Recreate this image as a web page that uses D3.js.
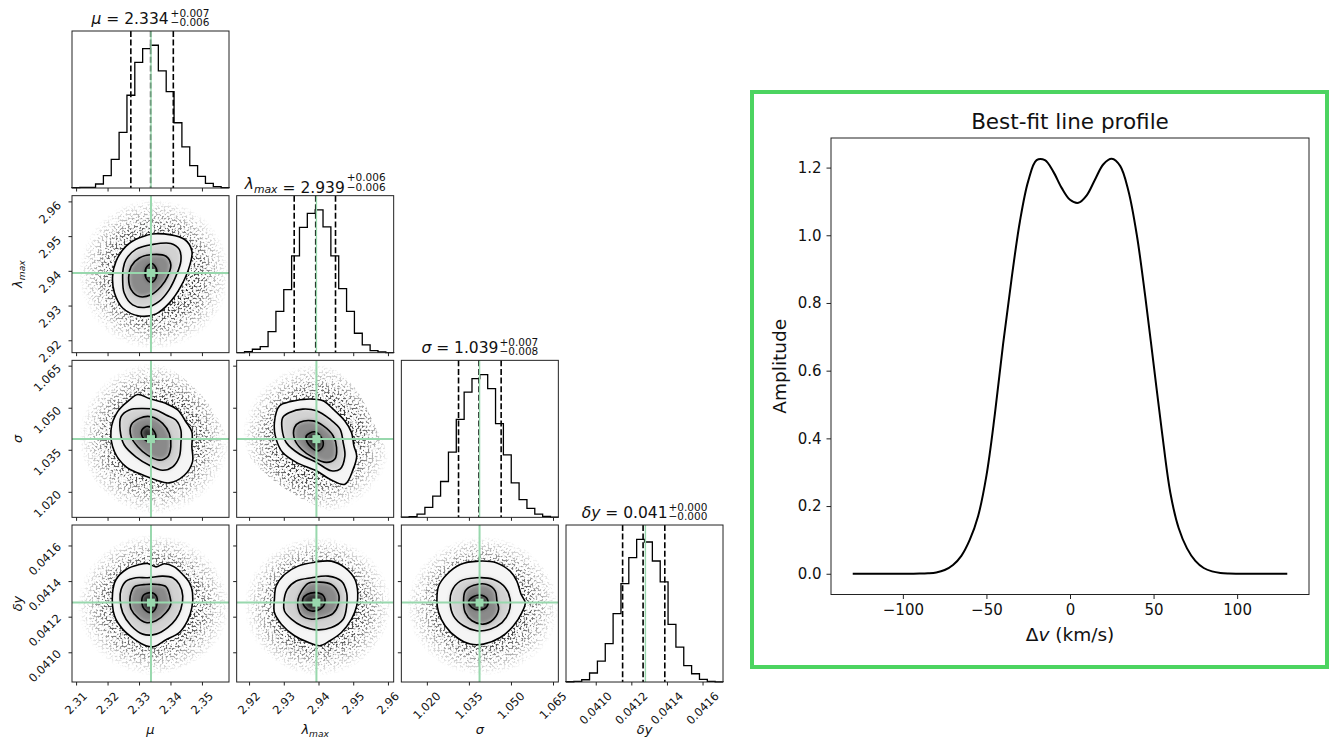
<!DOCTYPE html>
<html><head><meta charset="utf-8">
<script src="https://cdn.jsdelivr.net/npm/d3@7"></script>
<style>
body{margin:0;background:#fff;}
svg{display:block;font-family:"DejaVu Sans",sans-serif;}
</style></head><body>
<svg id="chart" width="1330" height="747"></svg>
<script>
// ---------------- DATA ----------------
const muRange = [2.3087, 2.3586];
const lamRange = [2.91643, 2.96165];
const sigRange = [1.0109, 1.0669];
const dyRange = [0.040833, 0.041715];

const muTicks = [2.31, 2.32, 2.33, 2.34, 2.35];
const lamTicks = [2.92, 2.93, 2.94, 2.95, 2.96];
const sigTicks = [1.020, 1.035, 1.050, 1.065];
const dyTicks = [0.0410, 0.0412, 0.0414, 0.0416];

const muHist  = [2, 5, 5, 28, 87, 200, 390, 650, 880, 977, 1000, 820, 675, 457, 288, 157, 82, 33, 9, 2];
const lamHist = [0, 7, 24, 42, 148, 289, 442, 678, 878, 976, 1000, 882, 678, 449, 289, 136, 54, 14, 5, 1];
const sigHist = [2, 5, 23, 70, 148, 251, 457, 686, 878, 972, 1000, 902, 656, 438, 241, 124, 63, 23, 7, 2];
const dyHist  = [2, 5, 16, 63, 147, 269, 479, 689, 871, 1000, 981, 848, 701, 404, 245, 115, 58, 19, 5, 1];

const truthValues = [2.3338, 2.9394, 1.0388, 0.041279];
const q16 = [2.3274, 2.9330, 1.0313, 0.041151];
const q50 = [2.3337, 2.9392, 1.0386, 0.041266];
const q84 = [2.3409, 2.9449, 1.0465, 0.041388];

const titleMedian = ["2.334", "2.939", "1.039", "0.041"];
const titlePlus   = ["+0.007", "+0.006", "+0.007", "+0.000"];
const titleMinus  = ["\u22120.006", "\u22120.006", "\u22120.008", "\u22120.000"];

// contour vertices: offsets from the truth values (units: 1e-3 for mu, lambda, sigma; 1e-5 for dy)
const offsetUnit = [1e-3, 1e-3, 1e-3, 1e-5];

const haloMuLam = [[-16.4,16.4],[-0.5,21.3],[15.3,18.4],[22.7,9.7],[24.9,-1.0],[19.6,-14.5],[6.9,-21.3],[-5.8,-21.3],[-17.5,-15.5],[-22.7,-2.9],[-21.7,8.7]];
const c20MuLam = [[1.6,11.3],[10.6,9.7],[13.0,6.3],[12.4,2.4],[9.5,-3.9],[5.8,-8.7],[1.6,-11.8],[-3.7,-12.4],[-9.0,-10.1],[-11.6,-5.8],[-12.2,-1.0],[-11.1,3.4],[-7.9,7.7],[-3.7,10.1]];
const c15MuLam = [[-7.9,3.9],[-4.8,6.8],[0.5,8.2],[6.3,8.5],[9.0,6.8],[9.5,3.4],[7.9,-1.0],[5.8,-4.8],[2.6,-8.2],[-1.6,-9.9],[-5.8,-9.2],[-8.5,-5.8],[-9.0,-1.4],[-8.8,1.4]];
const c10MuLam = [[-6.3,1.9],[-3.7,4.3],[0.5,5.3],[4.8,4.8],[6.3,2.4],[5.3,-1.0],[3.2,-3.9],[0,-6.3],[-3.7,-6.8],[-6.3,-4.8],[-7.1,-1.4]];
const c05MuLam = [[-1.6,1.4],[0.3,2.7],[1.8,1.0],[1.6,-1.4],[0,-2.7],[-1.6,-1.4]];

const haloMuSig = [[-20.6,13.9],[-11.1,24.6],[1.6,27.0],[11.1,21.1],[19.6,10.4],[24.9,-3.9],[20.6,-18.2],[11.1,-25.3],[-1.6,-26.5],[-14.3,-19.4],[-21.7,-6.3],[-22.7,5.6]];
const c20MuSig = [[-12.7,3.2],[-10.6,9.8],[-6.9,13.9],[-4.2,15.9],[-0.5,14.5],[4.8,12.7],[8.5,10.4],[11.1,6.2],[13.0,2.6],[13.0,-2.7],[13.2,-8.1],[10.6,-12.9],[5.8,-15.6],[1.6,-14.6],[-3.7,-12.3],[-7.9,-9.9],[-11.6,-4.5]];
const c15MuSig = [[-9.5,8.0],[-6.9,10.4],[-2.6,10.9],[1.6,10.4],[4.8,8.6],[7.9,6.8],[9.5,3.2],[9.5,-1.5],[9.0,-6.3],[6.9,-9.9],[3.7,-11.1],[-0.5,-9.3],[-4.8,-6.3],[-8.5,-2.1],[-9.8,3.2]];
const c10MuSig = [[-6.3,5.0],[-3.7,7.4],[0,8.0],[3.7,5.6],[5.8,2.0],[6.3,-2.7],[5.3,-6.3],[2.6,-7.5],[-1.1,-5.7],[-4.2,-2.7],[-6.3,0.8]];
const c05MuSig = [[-2.9,3.2],[-1.1,4.6],[1.1,2.6],[1.4,0.2],[-0.5,-1.0],[-2.6,0.6]];

const haloLamSig = [[-18.4,17.9],[-9.7,25.0],[2.9,26.2],[10.6,19.0],[16.4,6.0],[21.3,-9.5],[19.3,-23.8],[9.7,-26.8],[0,-23.8],[-11.6,-15.5],[-19.3,-6.0],[-21.3,7.1]];
const c20LamSig = [[-10.6,11.9],[-7.7,13.3],[-1.9,14.3],[1.9,13.7],[4.8,10.7],[8.2,6.5],[10.1,2.4],[10.8,-2.4],[11.6,-6.0],[10.6,-10.7],[8.2,-16.1],[3.9,-14.3],[0,-11.3],[-5.8,-8.3],[-9.7,-4.8],[-11.6,0],[-12.1,6.0]];
const c15LamSig = [[-9.7,7.7],[-7.7,9.5],[-3.9,10.7],[0,10.1],[3.9,7.1],[6.8,3.6],[7.7,-1.2],[8.2,-6.0],[6.8,-10.7],[4.3,-11.3],[0,-8.3],[-4.8,-5.4],[-8.7,-1.2],[-9.9,3.6]];
const c10LamSig = [[-6.3,4.2],[-4.8,6.0],[-1.0,6.5],[1.9,4.8],[4.8,1.2],[5.8,-3.0],[5.3,-7.1],[2.9,-8.3],[-1.0,-6.5],[-4.3,-3.6],[-6.3,0]];
const c05LamSig = [[-2.9,1.2],[-0.5,2.6],[1.4,0.6],[1.9,-2.4],[0.5,-4.2],[-1.4,-3.0],[-2.7,-1.0]];

const haloMuDy = [[-20.6,18.6],[-13.2,31.7],[-1.6,38.2],[11.1,35.4],[19.6,22.3],[24.9,0],[21.7,-22.3],[11.1,-35.4],[-0.5,-41.0],[-12.2,-35.4],[-20.6,-20.5],[-23.3,-1.9]];
const c20MuDy = [[-12.2,5.6],[-11.1,13.0],[-7.9,18.6],[-3.7,21.4],[-1.1,22.0],[1.6,20.1],[4.2,21.8],[7.4,20.1],[10.1,15.8],[12.2,11.2],[13.2,5.6],[13.0,-2.8],[11.6,-10.2],[9.0,-16.8],[4.8,-20.9],[1.1,-24.6],[-1.6,-24.2],[-5.3,-20.5],[-9.0,-14.9],[-11.6,-7.4]];
const c15MuDy = [[-9.5,7.4],[-7.9,12.1],[-4.8,14.0],[-1.1,14.0],[3.7,14.9],[6.9,14.0],[9.0,10.2],[10.1,3.7],[9.5,-3.7],[7.9,-9.3],[5.3,-14.0],[1.6,-17.7],[-2.6,-17.7],[-6.3,-13.0],[-9.0,-5.6],[-9.8,1.9]];
const c10MuDy = [[-6.3,5.6],[-5.3,8.9],[-1.6,10.2],[2.1,10.2],[4.8,8.9],[6.0,3.7],[6.3,-0.9],[4.8,-5.6],[1.6,-10.2],[-1.6,-11.2],[-4.2,-8.4],[-6.3,-3.7],[-6.7,1.9]];
const c05MuDy = [[-2.4,4.1],[0,5.6],[1.8,3.4],[1.6,-2.8],[0,-5.6],[-2.1,-3.7],[-2.9,0]];

const haloLamDy = [[-18.8,20.5],[-11.1,33.5],[-0.5,37.2],[11.1,33.5],[18.8,18.6],[21.7,-1.9],[17.9,-22.3],[9.2,-37.2],[-1.4,-41.0],[-11.1,-33.5],[-18.8,-18.6],[-20.8,1.9]];
const c20LamDy = [[-12.1,1.9],[-11.6,9.3],[-9.2,15.8],[-5.3,20.5],[-0.5,22.7],[4.3,23.3],[8.2,19.6],[11.1,13.0],[11.9,5.6],[11.6,-1.9],[10.1,-9.3],[7.2,-16.8],[3.9,-21.4],[1.0,-24.2],[-2.4,-22.3],[-6.3,-18.6],[-10.1,-12.1],[-12.1,-5.6]];
const c15LamDy = [[-9.4,0],[-8.4,7.4],[-5.8,12.1],[-1.4,14.0],[3.4,14.9],[7.2,12.1],[8.7,5.6],[8.7,-1.9],[7.7,-9.3],[4.3,-14.0],[0,-15.3],[-4.3,-13.0],[-7.2,-9.3],[-9.2,-4.7]];
const c10LamDy = [[-5.3,1.9],[-4.3,6.5],[-2.4,10.8],[1.0,11.5],[4.3,10.2],[6.3,5.2],[6.3,-0.9],[4.8,-6.0],[1.9,-8.4],[-1.4,-9.3],[-4.3,-7.1],[-5.3,-2.8]];
const c05LamDy = [[-3.9,2.2],[-2.6,4.7],[-0.3,5.6],[1.9,4.1],[2.4,-0.4],[1.0,-3.7],[-1.4,-4.7],[-3.4,-2.2]];

const haloSigDy = [[-22.4,20.5],[-12.9,33.5],[0.2,37.2],[14.5,31.7],[24.0,16.8],[28.2,0],[25.2,-22.3],[13.3,-37.2],[0.2,-41.0],[-12.9,-35.4],[-22.4,-20.5],[-25.9,0]];
const c20SigDy = [[-15.2,0.9],[-14.6,9.3],[-11.7,15.8],[-6.9,21.4],[-0.4,23.3],[6.2,22.3],[10.9,17.7],[13.3,12.1],[14.8,4.7],[16.3,0],[15.1,-5.6],[12.1,-13.0],[7.4,-19.6],[1.4,-23.3],[-3.3,-23.3],[-8.1,-19.6],[-12.3,-13.0],[-14.6,-5.6]];
const c15SigDy = [[-10.5,0],[-9.9,6.5],[-6.9,12.1],[-1.0,14.0],[5.0,13.0],[9.2,8.4],[10.9,1.9],[10.4,-5.6],[8.0,-11.2],[3.8,-14.9],[-1.0,-15.8],[-5.7,-13.0],[-9.3,-7.4]];
const c10SigDy = [[-5.7,0.9],[-5.1,6.5],[-2.1,9.7],[2.6,10.2],[5.6,6.5],[6.2,0.9],[6.8,-3.7],[5.0,-9.3],[1.4,-12.1],[-2.7,-10.2],[-5.1,-5.6]];
const c05SigDy = [[-3.9,0.4],[-2.1,3.4],[0.8,4.1],[2.9,1.5],[2.6,-2.2],[0.2,-4.1],[-2.7,-2.8]];

// best-fit line profile
const profileVelocity = [-130,-125,-120,-115,-110,-105,-100,-95,-90,-85,-80,-75,-70,-65,-60,-55,-50,-45,-40,-35,-30,-25,-20,-15,-10,-5,0,5,10,15,20,25,30,35,40,45,50,55,60,65,70,75,80,85,90,95,100,105,110,115,120,125,130];
const profileAmplitude = [0,0,0,0,0,0,0,0.0002,0.0005,0.0015,0.004,0.011,0.026,0.053,0.1,0.17,0.29,0.47,0.68,0.87,1.04,1.16,1.222,1.222,1.188,1.14,1.105,1.096,1.118,1.165,1.21,1.226,1.205,1.13,1.0,0.82,0.62,0.42,0.24,0.135,0.075,0.038,0.017,0.007,0.0025,0.0008,0.0002,0,0,0,0,0,0];
const profileXTicks = [-100, -50, 0, 50, 100];
const profileYTicks = [0.0, 0.2, 0.4, 0.6, 0.8, 1.0, 1.2];

// ---------------- DRAWING ----------------
const svg = d3.select("#chart");
const defs = svg.append("defs");
const ranges = [muRange, lamRange, sigRange, dyRange];
const ticks = [muTicks, lamTicks, sigTicks, dyTicks];
const tickFmt = [d3.format(".2f"), d3.format(".2f"), d3.format(".3f"), d3.format(".4f")];
const hists = [muHist, lamHist, sigHist, dyHist];
const SIZE = 157, STEP = 164.67, X0 = 72, Y0 = 31;
const colX = i => X0 + i * STEP;
const rowY = j => Y0 + j * STEP;
const xScale = ranges.map((r, i) => d3.scaleLinear().domain(r).range([colX(i), colX(i) + SIZE]));
const yScale = ranges.map((r, j) => d3.scaleLinear().domain(r).range([rowY(j) + SIZE, rowY(j)]));
const GREEN = "#98d8ad";
const AXC = "#222";
const TICKFS = 11.5;

// filters / gradients
const grad = defs.append("radialGradient").attr("id", "haloGrad").attr("cx", 0.5).attr("cy", 0.5).attr("r", 0.5);
[[0,1],[0.48,1],[0.64,0.75],[0.82,0.32],[1,0]].forEach(s => grad.append("stop").attr("offset", s[0]).attr("stop-color", "#000").attr("stop-opacity", s[1]));
const f = defs.append("filter").attr("id", "speck").attr("x", -0.1).attr("y", -0.1).attr("width", 1.2).attr("height", 1.2).attr("color-interpolation-filters", "sRGB");
f.append("feTurbulence").attr("type", "fractalNoise").attr("baseFrequency", 0.5).attr("numOctaves", 2).attr("seed", 11).attr("result", "n");
f.append("feColorMatrix").attr("in", "n").attr("type", "matrix")
  .attr("values", "0 0 0 0 0.22  0 0 0 0 0.22  0 0 0 0 0.22  -6.5 0 0 0 3.35").attr("result", "d");
f.append("feComposite").attr("in", "d").attr("in2", "SourceGraphic").attr("operator", "in");
const blur = defs.append("filter").attr("id", "soft").attr("x", -0.2).attr("y", -0.2).attr("width", 1.4).attr("height", 1.4);
blur.append("feGaussianBlur").attr("stdDeviation", 2.2);

function placeRot(sel, cx, cy) {
  const bb = sel.node().getBBox();
  const lx = bb.x + bb.width / 2, ly = bb.y + bb.height / 2;
  const rx = 0.7071 * (lx + ly), ry = 0.7071 * (ly - lx);
  sel.attr("transform", `translate(${cx - rx},${cy - ry}) rotate(-45)`);
}
function rotSize(sel) { const bb = sel.node().getBBox(); return (bb.width + bb.height) * 0.7071; }

function bottomTicks(g, k, j, withLabels) {
  const sc = xScale[k], yb = rowY(j) + SIZE;
  g.append("g").attr("transform", `translate(0,${yb})`)
    .call(d3.axisBottom(sc).tickValues(ticks[k]).tickSize(3.5).tickFormat(""))
    .call(a => { a.select(".domain").remove(); a.selectAll("line").attr("stroke", AXC); });
  if (withLabels) {
    ticks[k].forEach(t => {
      const tx = g.append("text").attr("font-size", TICKFS).attr("fill", "#111").text(tickFmt[k](t));
      const s = rotSize(tx);
      placeRot(tx, sc(t), yb + 7 + s / 2);
    });
  }
}
function leftTicks(g, k, i, withLabels) {
  const sc = yScale[k], xl = colX(i);
  g.append("g").attr("transform", `translate(${xl},0)`)
    .call(d3.axisLeft(sc).tickValues(ticks[k]).tickSize(3.5).tickFormat(""))
    .call(a => { a.select(".domain").remove(); a.selectAll("line").attr("stroke", AXC); });
  if (withLabels) {
    ticks[k].forEach(t => {
      const tx = g.append("text").attr("font-size", TICKFS).attr("fill", "#111").text(tickFmt[k](t));
      const s = rotSize(tx);
      placeRot(tx, xl - 8 - s / 2, sc(t) + 4 + s * 0.25);
    });
  }
}
function frame(g, i, j) {
  g.append("rect").attr("x", colX(i)).attr("y", rowY(j)).attr("width", SIZE).attr("height", SIZE)
    .attr("fill", "none").attr("stroke", AXC).attr("stroke-width", 1);
}
function symbol(textSel, k, fs) {
  if (k === 1) {
    textSel.append("tspan").attr("font-style", "italic").text("λ");
    textSel.append("tspan").attr("font-style", "italic").attr("font-size", fs * 0.7).attr("dy", fs * 0.25).text("max");
    textSel.append("tspan").attr("dy", -fs * 0.25).text("");
  } else if (k === 3) {
    textSel.append("tspan").attr("font-style", "italic").text("δy");
  } else {
    textSel.append("tspan").attr("font-style", "italic").text(k === 0 ? "μ" : "σ");
  }
}

// ---- histograms ----
for (let k = 0; k < 4; k++) {
  const g = svg.append("g");
  const xs = xScale[k], counts = hists[k];
  const ys = d3.scaleLinear().domain([0, 1.1 * d3.max(counts)]).range([rowY(k) + SIZE, rowY(k)]);
  const [a, b] = ranges[k], w = (b - a) / counts.length;
  const pts = [[a, 0]];
  counts.forEach((c, i) => pts.push([a + i * w, c]));
  pts.push([b, counts[counts.length - 1]], [b, 0]);
  g.append("path").attr("d", d3.line().x(d => xs(d[0])).y(d => ys(d[1])).curve(d3.curveStepAfter)(pts))
    .attr("fill", "none").attr("stroke", "#000").attr("stroke-width", 1.3);
  [q16[k], q50[k], q84[k]].forEach(q => {
    g.append("line").attr("x1", xs(q)).attr("x2", xs(q)).attr("y1", rowY(k)).attr("y2", rowY(k) + SIZE)
      .attr("stroke", "#000").attr("stroke-width", 1.6).attr("stroke-dasharray", "6,2.6");
  });
  g.append("line").attr("x1", xs(truthValues[k])).attr("x2", xs(truthValues[k])).attr("y1", rowY(k)).attr("y2", rowY(k) + SIZE)
    .attr("stroke", GREEN).attr("stroke-width", 1.4);
  frame(g, k, k);
  bottomTicks(g, k, k, k === 3);
  // title
  const FS = 15.5, SFS = 10.5;
  const tg = svg.append("g");
  const main = tg.append("text").attr("font-size", FS).attr("fill", "#111");
  symbol(main, k, FS);
  main.append("tspan").text(" = " + titleMedian[k]);
  const mw = main.node().getBBox().width;
  const sup = tg.append("text").attr("x", mw + 1).attr("y", -7.5).attr("font-size", SFS).attr("fill", "#111").text(titlePlus[k]);
  const sub = tg.append("text").attr("x", mw + 1).attr("y", 2).attr("font-size", SFS).attr("fill", "#111").text(titleMinus[k]);
  const tw = mw + 1 + Math.max(sup.node().getComputedTextLength(), sub.node().getComputedTextLength());
  tg.attr("transform", `translate(${colX(k) + SIZE / 2 - tw / 2},${rowY(k) - 7})`);
}

// ---- 2D panels ----
const panels = [
  { i: 0, j: 1, halo: haloMuLam, levels: [c20MuLam, c15MuLam, c10MuLam, c05MuLam] },
  { i: 0, j: 2, halo: haloMuSig, levels: [c20MuSig, c15MuSig, c10MuSig, c05MuSig] },
  { i: 1, j: 2, halo: haloLamSig, levels: [c20LamSig, c15LamSig, c10LamSig, c05LamSig] },
  { i: 0, j: 3, halo: haloMuDy, levels: [c20MuDy, c15MuDy, c10MuDy, c05MuDy] },
  { i: 1, j: 3, halo: haloLamDy, levels: [c20LamDy, c15LamDy, c10LamDy, c05LamDy] },
  { i: 2, j: 3, halo: haloSigDy, levels: [c20SigDy, c15SigDy, c10SigDy, c05SigDy] },
];
const levelFill = ["#f5f5f5", "#d2d2d2", "#8a8a8a", "#333333"];
panels.forEach((p, n) => {
  const xs = xScale[p.i], ys = yScale[p.j];
  const cx = truthValues[p.i], cy = truthValues[p.j], ux = offsetUnit[p.i], uy = offsetUnit[p.j];
  const line = d3.line().x(d => xs(cx + d[0] * ux)).y(d => ys(cy + d[1] * uy)).curve(d3.curveCatmullRomClosed.alpha(0.5));
  defs.append("clipPath").attr("id", "clip" + n).append("rect")
    .attr("x", colX(p.i)).attr("y", rowY(p.j)).attr("width", SIZE).attr("height", SIZE);
  const g = svg.append("g");
  const inner = g.append("g").attr("clip-path", `url(#clip${n})`);
  inner.append("path").attr("d", line(p.halo)).attr("fill", "url(#haloGrad)").attr("filter", "url(#speck)");
  inner.append("path").attr("d", line(p.levels[0])).attr("fill", levelFill[0]);
  const sg = inner.append("g").attr("filter", "url(#soft)");
  for (let l = 1; l < 4; l++) sg.append("path").attr("d", line(p.levels[l])).attr("fill", levelFill[l]);
  p.levels.forEach(lv => inner.append("path").attr("d", line(lv)).attr("fill", "none").attr("stroke", "#000").attr("stroke-width", 1.6));
  inner.append("line").attr("x1", xs(cx)).attr("x2", xs(cx)).attr("y1", rowY(p.j)).attr("y2", rowY(p.j) + SIZE)
    .attr("stroke", GREEN).attr("stroke-width", 2);
  inner.append("line").attr("y1", ys(cy)).attr("y2", ys(cy)).attr("x1", colX(p.i)).attr("x2", colX(p.i) + SIZE)
    .attr("stroke", GREEN).attr("stroke-width", 2);
  inner.append("rect").attr("x", xs(cx) - 4).attr("y", ys(cy) - 4).attr("width", 8).attr("height", 8).attr("fill", GREEN);
  frame(g, p.i, p.j);
  bottomTicks(g, p.i, p.j, p.j === 3);
  leftTicks(g, p.j, p.i, p.i === 0);
});

// axis labels of the corner plot
for (let k = 0; k < 4; k++) {
  const t = svg.append("text").attr("x", colX(k) + SIZE / 2).attr("y", 734).attr("text-anchor", "middle").attr("font-size", 13).attr("fill", "#111");
  symbol(t, k, 13);
  if (k > 0) {
    const yl = svg.append("text").attr("text-anchor", "middle").attr("font-size", 13).attr("fill", "#111")
      .attr("transform", `translate(22,${rowY(k) + SIZE / 2}) rotate(-90)`);
    symbol(yl, k, 13);
  }
}

// ---- best-fit line profile ----
svg.append("rect").attr("x", 752).attr("y", 92).attr("width", 575).attr("height", 575)
  .attr("fill", "none").attr("stroke", "#4cd460").attr("stroke-width", 4);
const pX = d3.scaleLinear().domain([-143, 143]).range([831, 1309]);
const pY = d3.scaleLinear().domain([-0.0613, 1.2874]).range([594.5, 138]);
const pg = svg.append("g");
pg.append("path").attr("d", d3.line().x((d, i) => pX(profileVelocity[i])).y(d => pY(d)).curve(d3.curveCatmullRom.alpha(0.5))(profileAmplitude))
  .attr("fill", "none").attr("stroke", "#000").attr("stroke-width", 2);
pg.append("rect").attr("x", 831).attr("y", 138).attr("width", 1309 - 831).attr("height", 594.5 - 138)
  .attr("fill", "none").attr("stroke", AXC).attr("stroke-width", 1);
pg.append("g").attr("transform", "translate(0,594.5)")
  .call(d3.axisBottom(pX).tickValues(profileXTicks).tickSize(4.5).tickPadding(5).tickFormat(d => d < 0 ? "\u2212" + Math.abs(d) : d))
  .call(a => { a.select(".domain").remove(); a.selectAll("line").attr("stroke", AXC); a.selectAll("text").attr("font-size", 15).attr("fill", "#111").attr("font-family", "DejaVu Sans"); });
pg.append("g").attr("transform", "translate(831,0)")
  .call(d3.axisLeft(pY).tickValues(profileYTicks).tickSize(4.5).tickPadding(5).tickFormat(d3.format(".1f")))
  .call(a => { a.select(".domain").remove(); a.selectAll("line").attr("stroke", AXC); a.selectAll("text").attr("font-size", 15).attr("fill", "#111").attr("font-family", "DejaVu Sans"); });
pg.append("text").attr("x", (831 + 1309) / 2).attr("y", 129).attr("text-anchor", "middle").attr("font-size", 21.5).attr("fill", "#111").text("Best-fit line profile");
const xl = pg.append("text").attr("x", (831 + 1309) / 2).attr("y", 641).attr("text-anchor", "middle").attr("font-size", 18.5).attr("fill", "#111");
xl.append("tspan").text("Δ");
xl.append("tspan").attr("font-style", "italic").text("v");
xl.append("tspan").text(" (km/s)");
pg.append("text").attr("transform", `translate(786,${(138 + 594.5) / 2}) rotate(-90)`).attr("text-anchor", "middle")
  .attr("font-size", 18.5).attr("fill", "#111").text("Amplitude");
</script>
</body></html>
